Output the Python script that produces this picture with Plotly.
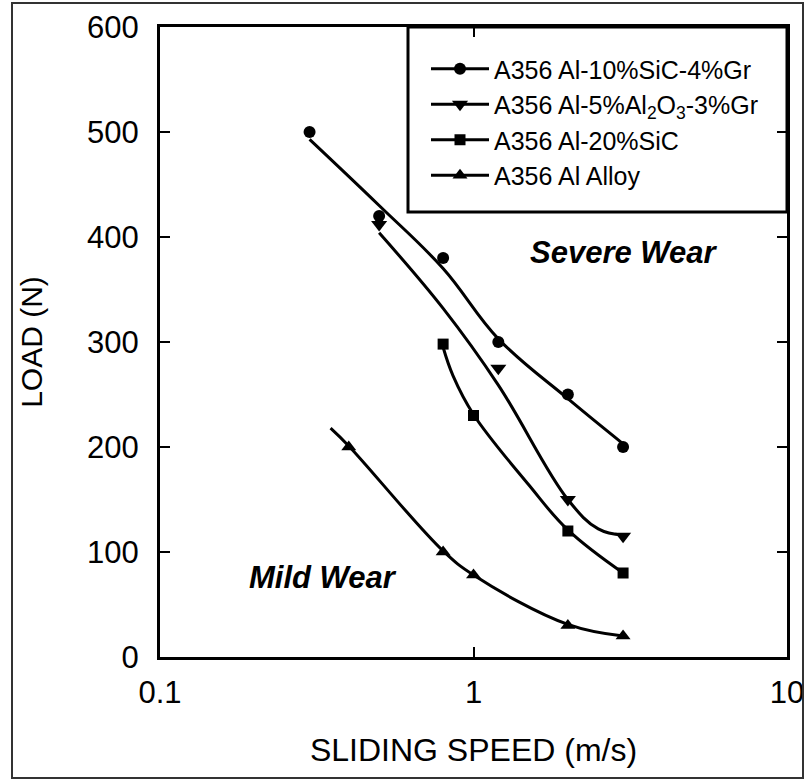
import math
import plotly.graph_objects as go

# ---- data ----
series_names = [
    "A356 Al-10%SiC-4%Gr",
    "A356 Al-5%Al<sub>2</sub>O<sub>3</sub>-3%Gr",
    "A356 Al-20%SiC",
    "A356 Al Alloy",
]
# measured points (markers)
speed_sic_gr = [0.3, 0.5, 0.8, 1.2, 2.0, 3.0]
load_sic_gr = [500, 420, 380, 300, 250, 200]

speed_al2o3_gr = [0.5, 1.2, 2.0, 3.0]
load_al2o3_gr = [412, 275, 150, 115]

speed_sic20 = [0.8, 1.0, 2.0, 3.0]
load_sic20 = [298, 230, 120, 80]

speed_alloy = [0.4, 0.8, 1.0, 2.0, 3.0]
load_alloy = [200, 100, 78, 30, 20]

# hand-drawn trend curves
curve_speed_sic_gr = [0.3, 0.5, 0.8, 1.2, 2.0, 3.0]
curve_load_sic_gr = [493, 430, 370, 303, 246, 203]

curve_speed_al2o3_gr = [0.5, 0.8, 1.2, 2.0, 2.5, 3.0]
curve_load_al2o3_gr = [404, 332, 259, 150, 122, 116]

curve_speed_sic20 = [0.8, 0.86, 1.0, 1.5, 2.0, 3.0]
curve_load_sic20 = [295, 268, 231, 164, 121, 80]

curve_speed_alloy = [0.35, 0.4, 0.8, 1.0, 2.0, 3.0]
curve_load_alloy = [218, 201, 101, 78, 31, 20]

symbols = ["circle", "triangle-down", "square", "triangle-up"]
marker_sizes = [12, 14, 11, 13]

region_labels = ["Severe Wear", "Mild Wear"]
region_x = [3.0, 0.33]
region_y = [385, 76]

y_ticks = [0, 100, 200, 300, 400, 500, 600]
x_ticks = [0.1, 1, 10]
x_ticklabels = ["0.1", "1", "10"]

FONT = "Liberation Sans, Arial, Helvetica, sans-serif"


def with_gaps(vals):
    out = []
    for v in vals:
        out.extend([v, None])
    return out[:-1]


fig = go.Figure()
pts_x = [speed_sic_gr, speed_al2o3_gr, speed_sic20, speed_alloy]
pts_y = [load_sic_gr, load_al2o3_gr, load_sic20, load_alloy]
cur_x = [curve_speed_sic_gr, curve_speed_al2o3_gr, curve_speed_sic20, curve_speed_alloy]
cur_y = [curve_load_sic_gr, curve_load_al2o3_gr, curve_load_sic20, curve_load_alloy]

for i in range(4):
    fig.add_trace(go.Scatter(
        x=cur_x[i], y=cur_y[i], mode="lines", showlegend=False, hoverinfo="skip",
        legendgroup=f"g{i}",
        line=dict(color="black", width=3, shape="spline", smoothing=1.1),
    ))
for i in range(4):
    # points separated by gaps: markers only on the chart, line+marker in the legend
    fig.add_trace(go.Scatter(
        x=with_gaps(pts_x[i]), y=with_gaps(pts_y[i]), mode="lines+markers",
        connectgaps=False, name=series_names[i], legendgroup=f"g{i}",
        line=dict(color="black", width=3),
        marker=dict(symbol=symbols[i], size=marker_sizes[i], color="black"),
    ))

axis_common = dict(
    showline=True, linecolor="black", linewidth=3, mirror="ticks",
    ticks="inside", ticklen=10, tickwidth=2, tickcolor="black",
    showgrid=False, zeroline=False,
    tickfont=dict(family=FONT, size=31, color="black"),
)
fig.update_xaxes(type="log", range=[-1, 1], tickvals=x_ticks, ticktext=x_ticklabels,
                 ticklabelstandoff=6,
                 title=dict(text="SLIDING SPEED (m/s)", font=dict(family=FONT, size=32, color="black"), standoff=30),
                 **axis_common)
fig.update_yaxes(range=[0, 600], tickvals=y_ticks, ticklabelstandoff=12,
                 title=dict(text="LOAD (N)", font=dict(family=FONT, size=30, color="black"), standoff=36),
                 **axis_common)

for t, x, y in zip(region_labels, region_x, region_y):
    fig.add_annotation(x=math.log10(x), y=y, xref="x", yref="y", text=f"<b><i>{t}</i></b>",
                       showarrow=False, font=dict(family=FONT, size=31, color="black"))

# legend box
x0p = (408 - 160) / 627
y1p = 1 - (212 - 27) / 630
fig.add_shape(type="rect", xref="paper", yref="paper", x0=x0p, x1=1, y0=y1p, y1=1,
              line=dict(color="black", width=3), fillcolor="white", layer="below")
# outer frame
fig.add_shape(type="rect", xref="paper", yref="paper",
              x0=(12 - 160) / 627, x1=(803 - 160) / 627,
              y0=(657 - 778) / 630, y1=(657 - 3) / 630,
              line=dict(color="#333333", width=2))

fig.update_layout(
    width=806, height=782,
    margin=dict(l=160, r=19, t=27, b=125, autoexpand=False),
    paper_bgcolor="white", plot_bgcolor="white",
    font=dict(family=FONT, color="black"),
    legend=dict(x=(426 - 160) / 627, y=1 - 19 / 630, xanchor="left", yanchor="top",
                bgcolor="rgba(0,0,0,0)", borderwidth=0, itemwidth=58,
                font=dict(family=FONT, size=25, color="black"),
                tracegroupgap=0),
)

fig.write_html("out.html")
